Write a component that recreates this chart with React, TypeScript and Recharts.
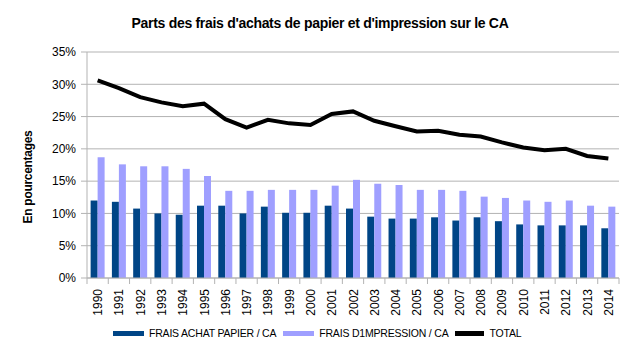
import React from 'react';
import { ComposedChart, Bar, Line, XAxis, YAxis, CartesianGrid, Legend } from 'recharts';

const years = ['1990','1991','1992','1993','1994','1995','1996','1997','1998','1999','2000','2001','2002','2003','2004','2005','2006','2007','2008','2009','2010','2011','2012','2013','2014'];
const papier = [12.0,11.8,10.75,10.0,9.8,11.2,11.2,10.0,11.05,10.1,10.1,11.2,10.75,9.5,9.2,9.2,9.4,8.9,9.4,8.8,8.3,8.15,8.15,8.15,7.7];
const impression = [18.7,17.6,17.3,17.3,16.9,15.8,13.5,13.5,13.65,13.65,13.65,14.3,15.2,14.6,14.4,13.65,13.65,13.5,12.6,12.4,12.0,11.8,12.0,11.2,11.05];
const total = [30.6,29.4,28.0,27.2,26.6,27.0,24.6,23.3,24.5,23.95,23.7,25.4,25.8,24.35,23.5,22.7,22.8,22.2,21.9,21.0,20.2,19.8,20.0,18.9,18.5];
const yTicks = [0,5,10,15,20,25,30,35];

const seriesNames = ['FRAIS ACHAT PAPIER / CA', 'FRAIS D1MPRESSION / CA', 'TOTAL'];
const colors = ['#004586', '#9f9fff', '#000000'];

const data = years.map((y, i) => ({ year: y, papier: papier[i], impression: impression[i], total: total[i] }));

const FONT = '"Liberation Sans", Arial, sans-serif';

const XTick = (props: any) => {
  const { x, y, payload, index } = props;
  const half = payload && payload.offset ? payload.offset : 10.64;
  return (
    <g>
      <line x1={x - half} x2={x - half} y1={y - 8} y2={y - 2} stroke="#b3b3b3" />
      {index === years.length - 1 && (
        <line x1={x + half} x2={x + half} y1={y - 8} y2={y - 2} stroke="#b3b3b3" />
      )}
      <text
        x={0}
        y={0}
        transform={`translate(${x + 4.5},${y + 3}) rotate(-90)`}
        textAnchor="end"
        fontFamily={FONT}
        fontSize={12}
        fill="#000"
      >
        {payload.value}
      </text>
    </g>
  );
};

const LegendContent = () => (
  <div style={{ display: 'flex', alignItems: 'center', paddingLeft: 113, fontFamily: FONT, fontSize: 10.5, color: '#000', height: 20 }}>
    {seriesNames.map((n, i) => (
      <div key={n} style={{ display: 'flex', alignItems: 'center', marginRight: 7 }}>
        <div style={{ width: i === 2 ? 29 : 31, height: 5, background: colors[i], marginRight: 5 }} />
        <span style={{ letterSpacing: -0.2 }}>{n}</span>
      </div>
    ))}
  </div>
);

export default function App() {
  return (
    <div style={{ position: 'absolute', left: 0, top: 0, width: 631, height: 355, background: '#fff' }}>
      <div
        style={{
          position: 'absolute', left: 0, top: 15, width: 640, textAlign: 'center',
          fontFamily: FONT, fontWeight: 'bold', fontSize: 14, color: '#000', letterSpacing: -0.3,
        }}
      >
        Parts des frais d'achats de papier et d'impression sur le CA
      </div>
      <ComposedChart
        width={631}
        height={355}
        data={data}
        margin={{ top: 52, right: 12, bottom: 12, left: 0 }}
        barCategoryGap="17%"
        barGap={0}
      >
        <CartesianGrid vertical={false} stroke="#b3b3b3" />
        <XAxis
          dataKey="year"
          height={45}
          interval={0}
          tickLine={false}
          axisLine={{ stroke: '#b3b3b3' }}
          tick={<XTick />}
        />
        <YAxis
          width={87}
          domain={[0, 35]}
          ticks={yTicks}
          interval={0}
          tickFormatter={(v: number) => `${v}%`}
          tickSize={6}
          tickMargin={5}
          tickLine={{ stroke: '#b3b3b3' }}
          axisLine={{ stroke: '#b3b3b3' }}
          tick={{ fontFamily: FONT, fontSize: 12, fill: '#000' }}
          label={{
            content: () => (
              <text
                x={0}
                y={0}
                transform="translate(32,177) rotate(-90)"
                textAnchor="middle"
                fontFamily={FONT}
                fontWeight="bold"
                fontSize={12}
                letterSpacing={-0.3}
                fill="#000"
              >
                En pourcentages
              </text>
            ),
          }}
        />
        <YAxis yAxisId="right" orientation="right" width={0} tick={false} tickLine={false} axisLine={{ stroke: '#b3b3b3' }} domain={[0, 35]} />
        <Bar dataKey="papier" name={seriesNames[0]} fill={colors[0]} isAnimationActive={false} />
        <Bar dataKey="impression" name={seriesNames[1]} fill={colors[1]} isAnimationActive={false} />
        <Line dataKey="total" name={seriesNames[2]} type="linear" stroke={colors[2]} strokeWidth={4} dot={false} activeDot={false} isAnimationActive={false} />
        <Legend verticalAlign="bottom" height={20} content={<LegendContent />} />
      </ComposedChart>
    </div>
  );
}
